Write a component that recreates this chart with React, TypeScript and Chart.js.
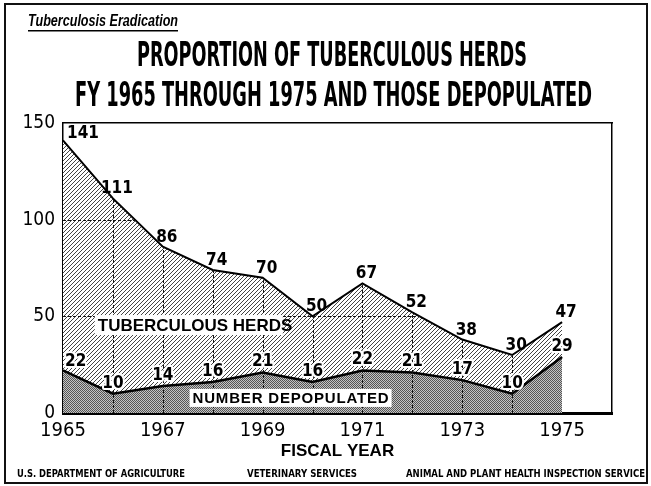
import React, { useEffect, useRef } from "react";
import { Chart, registerables } from "chart.js";

Chart.register(...registerables);

const years = [1965, 1966, 1967, 1968, 1969, 1970, 1971, 1972, 1973, 1974, 1975];
const tuberculousHerds = [141, 111, 86, 74, 70, 50, 67, 52, 38, 30, 47];
const numberDepopulated = [22, 10, 14, 16, 21, 16, 22, 21, 17, 10, 29];
const xTickValues = [1965, 1967, 1969, 1971, 1973, 1975];
const yTickValues = [0, 50, 100, 150];
const gridYears = [1966, 1967, 1968, 1969, 1970, 1971, 1972, 1973, 1974];
const gridLevels = [50, 100];

const headerText = "Tuberculosis Eradication";
const titleLines = ["PROPORTION OF TUBERCULOUS HERDS", "FY 1965 THROUGH 1975 AND THOSE DEPOPULATED"];
const xAxisTitle = "FISCAL YEAR";
const footerTexts = [
  "U.S. DEPARTMENT OF AGRICULTURE",
  "VETERINARY SERVICES",
  "ANIMAL AND PLANT HEALTH INSPECTION SERVICE",
];
const seriesNames = ["TUBERCULOUS HERDS", "NUMBER DEPOPULATED"];

const NARROW = "'Liberation Sans Narrow', 'DejaVu Sans Condensed', 'Liberation Sans', sans-serif";
const SANS = "'Liberation Sans', 'DejaVu Sans', sans-serif";

function makeHatch(ctx: CanvasRenderingContext2D) {
  const c = document.createElement("canvas");
  c.width = 4;
  c.height = 4;
  const g = c.getContext("2d")!;
  g.fillStyle = "#ffffff";
  g.fillRect(0, 0, 4, 4);
  g.strokeStyle = "#444444";
  g.lineWidth = 1;
  g.beginPath();
  g.moveTo(-1, 5);
  g.lineTo(5, -1);
  g.moveTo(3, 5);
  g.lineTo(5, 3);
  g.moveTo(-1, 1);
  g.lineTo(1, -1);
  g.stroke();
  return ctx.createPattern(c, "repeat");
}

function makeDense(ctx: CanvasRenderingContext2D) {
  const c = document.createElement("canvas");
  c.width = 2;
  c.height = 2;
  const g = c.getContext("2d")!;
  g.fillStyle = "#c4c4c4";
  g.fillRect(0, 0, 2, 2);
  g.fillStyle = "#555555";
  g.fillRect(0, 0, 1, 1);
  g.fillRect(1, 1, 1, 1);
  return ctx.createPattern(c, "repeat");
}

function drawFitted(ctx: CanvasRenderingContext2D, text: string, left: number, baseline: number, width: number, font: string) {
  ctx.save();
  ctx.font = font;
  ctx.textAlign = "left";
  ctx.textBaseline = "alphabetic";
  const w = ctx.measureText(text).width;
  ctx.translate(left, baseline);
  ctx.scale(width / w, 1);
  ctx.fillText(text, 0, 0);
  ctx.restore();
}

function drawSpaced(ctx: CanvasRenderingContext2D, text: string, cx: number, baseline: number, width: number, font: string) {
  ctx.save();
  ctx.font = font;
  ctx.textAlign = "left";
  ctx.textBaseline = "alphabetic";
  (ctx as any).letterSpacing = "0px";
  const w = ctx.measureText(text).width;
  const sp = Math.max(0, (width - w) / (text.length - 1));
  (ctx as any).letterSpacing = sp + "px";
  ctx.fillText(text, cx - width / 2, baseline);
  ctx.restore();
}

const decorPlugin = {
  id: "decor",
  afterDatasetsDraw(chart: any) {
    const ctx: CanvasRenderingContext2D = chart.ctx;
    const xs = chart.scales.x;
    const ys = chart.scales.y;
    // dashed grid inside the filled region
    ctx.save();
    ctx.beginPath();
    ctx.moveTo(xs.getPixelForValue(years[0]), ys.getPixelForValue(0));
    years.forEach((yr, i) => ctx.lineTo(xs.getPixelForValue(yr), ys.getPixelForValue(tuberculousHerds[i])));
    ctx.lineTo(xs.getPixelForValue(years[years.length - 1]), ys.getPixelForValue(0));
    ctx.closePath();
    ctx.clip();
    ctx.strokeStyle = "#111";
    ctx.lineWidth = 1;
    ctx.setLineDash([3, 2]);
    ctx.beginPath();
    gridLevels.forEach((v) => {
      const py = Math.round(ys.getPixelForValue(v)) + 0.5;
      ctx.moveTo(xs.left, py);
      ctx.lineTo(xs.right, py);
    });
    gridYears.forEach((yr) => {
      const px = Math.round(xs.getPixelForValue(yr)) + 0.5;
      ctx.moveTo(px, ys.getPixelForValue(0));
      ctx.lineTo(px, ys.top);
    });
    ctx.stroke();
    ctx.restore();

    // value labels
    const labelFont = `bold 17px ${NARROW}`;
    ctx.save();
    ctx.font = labelFont;
    ctx.textBaseline = "alphabetic";
    const herdMeta = chart.getDatasetMeta(1);
    herdMeta.data.forEach((pt: any, i: number) => {
      ctx.fillStyle = "#000";
      if (i === 0) {
        ctx.textAlign = "left";
        ctx.fillText(String(tuberculousHerds[i]), pt.x + 4, pt.y - 2);
      } else {
        ctx.textAlign = "center";
        ctx.fillText(String(tuberculousHerds[i]), pt.x + 4, pt.y - 5);
      }
    });
    const depMeta = chart.getDatasetMeta(0);
    depMeta.data.forEach((pt: any, i: number) => {
      const t = String(numberDepopulated[i]);
      let x = pt.x;
      let y = pt.y - 6;
      if (i === 0) {
        ctx.textAlign = "left";
        x = pt.x + 2;
        y = pt.y - 4;
      } else {
        ctx.textAlign = "center";
      }
      ctx.lineJoin = "round";
      ctx.strokeStyle = "#fff";
      ctx.lineWidth = 4;
      ctx.strokeText(t, x, y);
      ctx.fillStyle = "#000";
      ctx.fillText(t, x, y);
    });
    ctx.restore();

    // series name labels with white boxes
    const boxes = [
      { text: seriesNames[0], x: 1967.52, y: 45.5, w: 182, font: `bold 17px ${SANS}`, h: 18 },
      { text: seriesNames[1], x: 1969.56, y: 7.8, w: 196, font: `bold 15px ${SANS}`, h: 16 },
    ];
    boxes.forEach((b) => {
      const cx = xs.getPixelForValue(b.x);
      const cy = ys.getPixelForValue(b.y);
      ctx.save();
      ctx.fillStyle = "#fff";
      ctx.fillRect(cx - b.w / 2 - 3, cy - b.h / 2 - 1, b.w + 6, b.h + 2);
      ctx.fillStyle = "#000";
      drawSpaced(ctx, b.text, cx, cy + b.h * 0.33, b.w, b.font);
      ctx.restore();
    });
  },
  afterDraw(chart: any) {
    const ctx: CanvasRenderingContext2D = chart.ctx;
    ctx.save();
    ctx.fillStyle = "#000";
    // outer frame
    ctx.strokeStyle = "#111";
    ctx.lineWidth = 2;
    ctx.strokeRect(5, 4, 642, 479);
    // header
    drawFitted(ctx, headerText, 28, 26, 150, `italic bold 16px ${SANS}`);
    ctx.fillRect(28, 30, 150, 1.5);
    // titles
    drawFitted(ctx, titleLines[0], 137, 66, 390, `bold 33px ${NARROW}`);
    drawFitted(ctx, titleLines[1], 75, 106, 517, `bold 33px ${NARROW}`);
    // footer
    drawFitted(ctx, footerTexts[0], 17, 477, 168, `bold 10px ${NARROW}`);
    drawFitted(ctx, footerTexts[1], 247, 477, 110, `bold 10px ${NARROW}`);
    drawFitted(ctx, footerTexts[2], 406, 477, 239, `bold 10px ${NARROW}`);
    ctx.restore();
  },
};

export default function App() {
  const ref = useRef<HTMLCanvasElement | null>(null);
  useEffect(() => {
    const canvas = ref.current!;
    const ctx = canvas.getContext("2d")!;
    const hatch = makeHatch(ctx);
    const dense = makeDense(ctx);
    const chart = new Chart(canvas, {
      type: "line",
      data: {
        datasets: [
          {
            label: seriesNames[1],
            data: years.map((yr, i) => ({ x: yr, y: numberDepopulated[i] })),
            borderColor: "#000",
            borderWidth: 2.5,
            backgroundColor: dense as any,
            fill: "origin",
            pointRadius: 0,
            tension: 0,
            clip: false as any,
          },
          {
            label: seriesNames[0],
            data: years.map((yr, i) => ({ x: yr, y: tuberculousHerds[i] })),
            borderColor: "#000",
            borderWidth: 2,
            backgroundColor: hatch as any,
            fill: "-1",
            pointRadius: 0,
            tension: 0,
            clip: false as any,
          },
        ],
      },
      options: {
        animation: false,
        responsive: false,
        maintainAspectRatio: false,
        layout: { padding: { top: 123, right: 39, left: 0, bottom: 0 } },
        plugins: {
          legend: { display: false },
          tooltip: { enabled: false },
          title: { display: false },
        },
        scales: {
          x: {
            type: "linear",
            position: "bottom",
            min: 1965,
            max: 1976,
            afterBuildTicks: (s: any) => {
              s.ticks = xTickValues.map((v) => ({ value: v }));
            },
            afterFit: (s: any) => {
              s.height = 73;
            },
            grid: { display: false, drawTicks: false },
            border: { display: true, color: "#000", width: 3 },
            ticks: {
              font: { family: NARROW, size: 20 },
              color: "#000",
              padding: 6,
              maxRotation: 0,
              autoSkip: false,
              callback: (v: any) => String(v),
            },
            title: {
              display: true,
              text: xAxisTitle,
              color: "#000",
              font: { family: SANS, size: 17, weight: "bold" },
              padding: { top: 0, bottom: 24 },
            },
          },
          xTop: {
            type: "linear",
            position: "top",
            min: 1965,
            max: 1976,
            ticks: { display: false },
            grid: { display: false, drawTicks: false },
            border: { display: true, color: "#000", width: 1.5 },
            afterFit: (s: any) => {
              s.height = 0;
            },
          },
          y: {
            type: "linear",
            position: "left",
            min: 0,
            max: 150,
            afterBuildTicks: (s: any) => {
              s.ticks = yTickValues.map((v) => ({ value: v }));
            },
            afterFit: (s: any) => {
              s.width = 63;
            },
            grid: { display: false, drawTicks: false },
            border: { display: true, color: "#000", width: 1.5 },
            ticks: {
              font: { family: NARROW, size: 19 },
              color: "#000",
              padding: 8,
              callback: (v: any) => String(v),
            },
          },
          yRight: {
            type: "linear",
            position: "right",
            min: 0,
            max: 150,
            ticks: { display: false },
            grid: { display: false, drawTicks: false },
            border: { display: true, color: "#000", width: 1.5 },
            afterFit: (s: any) => {
              s.width = 0;
            },
          },
        },
      } as any,
      plugins: [decorPlugin],
    });
    return () => chart.destroy();
  }, []);
  return (
    <div style={{ position: "absolute", left: 0, top: 0, width: 651, height: 486, background: "#fff" }}>
      <canvas ref={ref} width={651} height={486} style={{ display: "block" }} />
    </div>
  );
}
